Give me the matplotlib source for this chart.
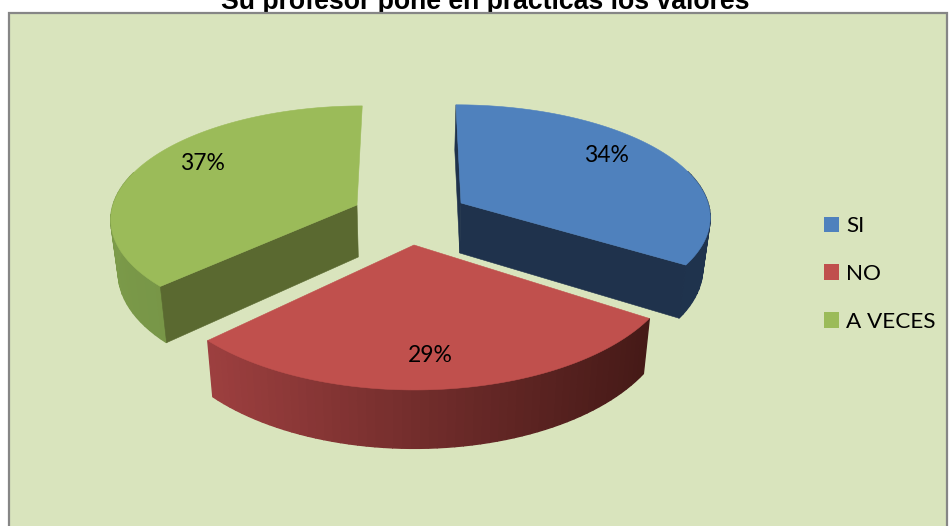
import numpy as np
import matplotlib
matplotlib.use('Agg')
import matplotlib.pyplot as plt
from matplotlib.patches import Patch, Rectangle

#data
labels = ['SI', 'NO', 'A VECES']
values = [34, 29, 37]
title = 'Su profesor pone en prácticas los valores'

#colors
top_colors = ['#4f81bd', '#c0504d', '#9bbb59']
face_colors = ['#1f324c', '#5c2220', '#5a6930']
rim_left = [(0.12, 0.20, 0.30), (0.62, 0.25, 0.25), (0.47, 0.59, 0.28)]
rim_right = [(0.12, 0.20, 0.30), (0.27, 0.10, 0.09), (0.53, 0.65, 0.31)]
bg = '#d9e4bd'

#wedge geometry in pixels
centers = [(461, 203), (414, 245), (357, 205)]
radius_x = [247, 262, 244]
radius_y = [109, 129, 110]
depth = [50, 52, 52]
vanish_x = 410
persp = 0.11
label_pos = [(606, 156), (430, 356), (202, 164)]

def project(i, ang, down=False):
    u = np.cos(ang)
    v = np.sin(ang)
    s = 1 / (1 + persp * v)
    x = vanish_x + (centers[i][0] + radius_x[i] * u - vanish_x) * s
    y = centers[i][1] - radius_y[i] * v * s
    if down:
        x = x + (vanish_x - x) * 0.025
        y = y + depth[i] * s
    return x, y

def apex(i, down=False):
    x, y = float(centers[i][0]), float(centers[i][1])
    if down:
        x = x + (vanish_x - x) * 0.025
        y = y + depth[i]
    return x, y

fig = plt.figure(figsize=(9.49, 5.26), dpi=100)
ax = fig.add_axes([0, 0, 1, 1])
ax.set_xlim(0, 949)
ax.set_ylim(526, 0)
ax.axis('off')

# the title is cut by the top of the picture in the original too
ax.text(485, 9, title, ha='center', va='baseline', fontsize=19.2, fontweight='bold',
        family='Liberation Sans', color='black', zorder=0)
ax.add_patch(Rectangle((9, 13), 938, 530, facecolor=bg, edgecolor='#868686', lw=1.6, zorder=1))

#angles start at the top and go clockwise
fractions = np.array(values) / sum(values)
ends = np.pi / 2 - np.cumsum(fractions) * 2 * np.pi
starts = np.r_[np.pi / 2, ends[:-1]]
cut_faces = {0: [starts[0], ends[0]], 1: [], 2: [starts[2]]}

for i in [2, 0, 1]:
    angs = np.linspace(starts[i], ends[i], 60)
    # outer wall, strips so that the shading runs left to right
    for k in range(len(angs) - 1):
        a0, a1 = angs[k], angs[k + 1]
        if np.sin((a0 + a1) / 2) > 0.3:
            continue
        p = [project(i, a0), project(i, a1), project(i, a1, True), project(i, a0, True)]
        xs, ys = zip(*p)
        t = np.clip((xs[0] - 205) / 445, 0, 1) if i == 1 else k / (len(angs) - 1)
        col = tuple((1 - t) * np.array(rim_left[i]) + t * np.array(rim_right[i]))
        ax.fill(xs, ys, color=col, lw=1, zorder=2)
    # flat cut faces
    for a in cut_faces[i]:
        p = [apex(i), project(i, a), project(i, a, True), apex(i, True)]
        xs, ys = zip(*p)
        ax.fill(xs, ys, color=face_colors[i], lw=0.4, zorder=2)
    # top
    rim = [project(i, a) for a in np.linspace(starts[i], ends[i], 200)]
    xs, ys = zip(*([apex(i)] + rim))
    ax.fill(xs, ys, color=top_colors[i], lw=0.4, zorder=2)

for i in range(len(values)):
    ax.text(label_pos[i][0], label_pos[i][1], '%d%%' % values[i], ha='center', va='center',
            fontsize=16.5, family='Lato', color='black', zorder=3)

handles = [Patch(facecolor=c, edgecolor='none') for c in top_colors]
ax.legend(handles, labels, loc='center left', bbox_to_anchor=(824 / 949, 1 - 274 / 526),
          frameon=False, prop={'family': 'Lato', 'size': 16.2}, handlelength=0.667, handleheight=0.667,
          handletextpad=0.33, labelspacing=1.24, borderpad=0, borderaxespad=0)

fig.savefig('out.png', dpi=100, facecolor='white')
